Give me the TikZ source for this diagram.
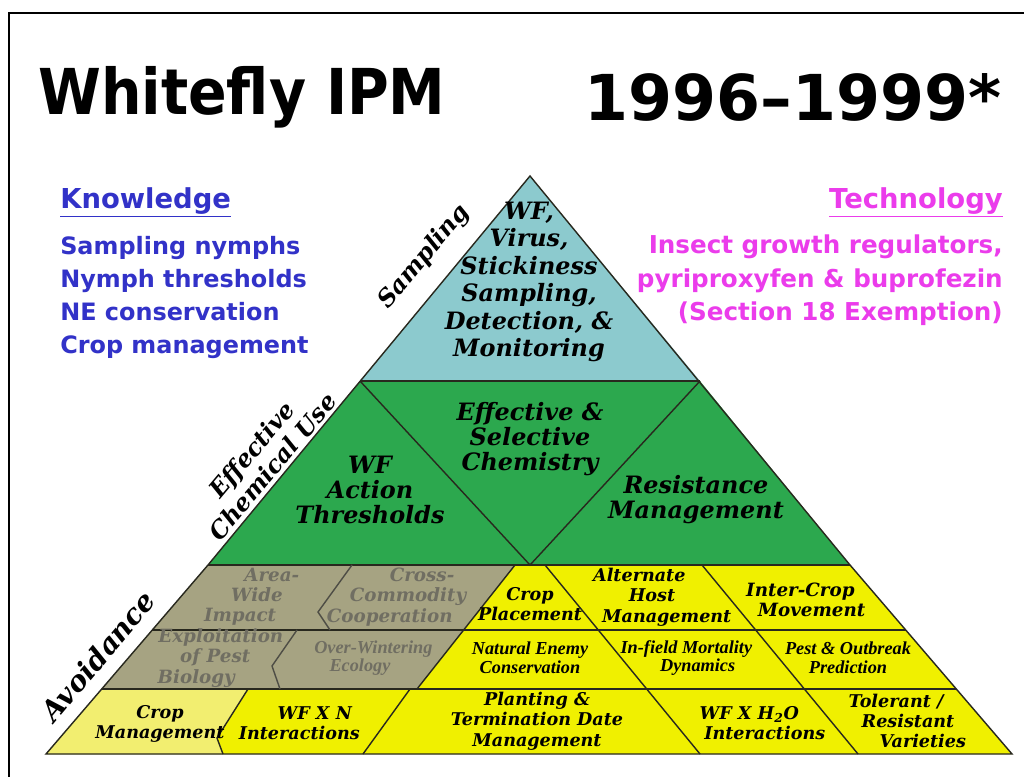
\documentclass[tikz,border=0pt]{standalone}
\usepackage{fontspec}
\setmainfont{DejaVu Serif}
\setsansfont{DejaVu Sans}
\newfontfamily\titlefont{DejaVu Sans Condensed}
\newfontfamily\narrowfont{Liberation Serif}
\usetikzlibrary{calc}

\definecolor{skyteal}{RGB}{140,202,206}
\definecolor{chemgreen}{RGB}{44,168,78}
\definecolor{avoidgray}{RGB}{166,163,130}
\definecolor{avoidtext}{RGB}{112,110,98}
\definecolor{cropyellow}{RGB}{240,240,0}
\definecolor{paleyellow}{RGB}{242,238,112}
\definecolor{knowblue}{RGB}{50,50,200}
\definecolor{techpink}{RGB}{235,60,235}
\definecolor{edgeline}{RGB}{40,40,30}

\tikzset{
  cell/.style={align=center,inner sep=0pt,font=\bfseries\itshape\fontsize{12.5}{14.5}\selectfont},
  rowcell/.style={cell,font=\bfseries\itshape\fontsize{13}{14.3}\selectfont},
  bigcell/.style={cell,font=\bfseries\itshape\fontsize{17}{19.5}\selectfont},
  greencell/.style={cell,font=\bfseries\itshape\fontsize{17}{17.8}\selectfont},
  smallcell/.style={cell,font=\narrowfont\bfseries\itshape\fontsize{13}{13.3}\selectfont},
  greycell/.style={text=avoidtext},
  sidelabel/.style={align=center,inner sep=0pt,rotate=50,
    font=\bfseries\itshape\fontsize{17}{19}\selectfont},
  sidehead/.style={inner sep=0pt,font=\sffamily\bfseries\fontsize{19.5}{22}\selectfont},
  sidetext/.style={inner sep=0pt,font=\sffamily\bfseries\fontsize{17}{23.5}\selectfont},
  edge/.style={draw=edgeline,line width=1pt}
}

\begin{document}
\begin{tikzpicture}[x=0.025cm,y=-0.025cm]
\useasboundingbox (0,0) rectangle (1024,776);
\fill[white] (0,0) rectangle (1024,776);
\draw[line width=1.5pt] (9,800) -- (9,13) -- (1040,13);

% pyramid corners
\coordinate (apex) at (530,176);
\coordinate (tl) at (360,381);
\coordinate (tr) at (700,381);
\coordinate (gl) at (208,565);
\coordinate (gm) at (530,565);
\coordinate (gr) at (850,565);
\coordinate (r1l) at (152,630);
\coordinate (r1r) at (906,630);
\coordinate (r2l) at (102,689);
\coordinate (r2r) at (956,689);
\coordinate (bl) at (46,754);
\coordinate (br) at (1012,754);
\coordinate (splitt) at (515,565);
\coordinate (splitb) at (417,689);

% fills
\fill[skyteal] (apex) -- (tr) -- (tl) -- cycle;
\fill[chemgreen] (tl) -- (tr) -- (gr) -- (gl) -- cycle;
\fill[avoidgray] (gl) -- (splitt) -- (splitb) -- (r2l) -- cycle;
\fill[cropyellow] (splitt) -- (gr) -- (r2r) -- (splitb) -- cycle;
\fill[cropyellow] (r2l) -- (r2r) -- (br) -- (bl) -- cycle;
\fill[paleyellow] (r2l) -- (248,689) -- (217,738) -- (223,754) -- (bl) -- cycle;

% lines
\draw[edge] (apex) -- (gr) -- (br) -- (bl) -- (gl) -- cycle;
\draw[edge] (tl) -- (tr);
\draw[edge] (gl) -- (gr);
\draw[edge] (r1l) -- (r1r);
\draw[edge] (r2l) -- (r2r);
\draw[edge] (tl) -- (gm) -- (tr);
\draw[edge] (splitt) -- (splitb);
\draw[edge,draw=avoidtext!70!black] (352,565) -- (318,612) -- (330,630);
\draw[edge,draw=avoidtext!70!black] (297,630) -- (272,666) -- (280,689);
\draw[edge] (545,565) -- (700,754);
\draw[edge] (702,565) -- (858,754);
\draw[edge] (410,689) -- (363,754);
\draw[edge] (248,689) -- (217,738) -- (223,754);

% top and green levels
\node (monitor) [bigcell] at (529,282) {WF,\\Virus,\\Stickiness\\Sampling,\\Detection, \&\\Monitoring};
\node (thresh) [greencell] at (370,490) {WF\\Action\\Thresholds};
\node (chem) [greencell] at (530,439) {Effective \&\\Selective\\Chemistry};
\node (resist) [greencell] at (696,500) {Resistance\\Management};

% avoidance rows
\node (areawide) [rowcell,greycell] at (257,597) {\hspace*{21pt}Area-\\Wide\\Impact\hspace*{24pt}};
\node (cross) [rowcell,greycell] at (408,597) {\hspace*{20pt}Cross-\\Commodity\\Cooperation\hspace*{26pt}};
\node (place) [cell] at (530,604) {Crop\\Placement};
\node (althost) [cell] at (652,597) {Alternate\hspace*{18pt}\\Host\\\hspace*{21pt}Management};
\node (intercrop) [rowcell] at (806,600) {Inter-Crop\hspace*{8pt}\\\hspace*{8pt}Movement};
\node (exploit) [rowcell,greycell] at (211,658) {\hspace*{14pt}Exploitation\\\hspace*{6pt}of Pest\\Biology\hspace*{21pt}};
\node (winter) [smallcell,greycell] at (367,658) {\hspace*{9pt}Over-Wintering\\Ecology\hspace*{10pt}};
\node (enemy) [smallcell] at (530,658) {Natural Enemy\\Conservation};
\node (infield) [smallcell] at (692,658) {In-field Mortality\hspace*{8pt}\\\hspace*{8pt}Dynamics};
\node (outbreak) [smallcell] at (848,658) {Pest \& Outbreak\\Prediction};
\node (cropman) [cell] at (160,724) {Crop\\Management};
\node (wfn) [cell] at (307,723) {\hspace*{11pt}WF X N\\Interactions\hspace*{11pt}};
\node (planting) [cell] at (537,721) {Planting \&\\Termination Date\\Management};
\node (wfh) [cell] at (757,723) {WF X H\textsubscript{2}O\hspace*{11pt}\\\hspace*{11pt}Interactions};
\node (tolerant) [cell] at (908,721) {Tolerant /\hspace*{17pt}\\Resistant\hspace*{4pt}\\\hspace*{21pt}Varieties};

% side labels along the pyramid
\node (samplbl) [sidelabel] at (424,257) {Sampling};
\node (chemlbl) [sidelabel] at (262,458) {Effective\\Chemical Use};
\node (avoidlbl) [sidelabel,font=\bfseries\itshape\fontsize{20}{22}\selectfont] at (98,656) {Avoidance};

% title
\node (title) [anchor=west,inner sep=0pt,font=\titlefont\bfseries\fontsize{45}{50}\selectfont] at (38,97) {Whitefly IPM};
\node (years) [anchor=east,inner sep=0pt,font=\sffamily\bfseries\fontsize{45}{50}\selectfont] at (1002,97) {1996–1999*};

% knowledge and technology
\node (know) [sidehead,anchor=west,text=knowblue] at (60,202) {\underline{Knowledge}};
\node (knowlist) [sidetext,anchor=north west,align=left,text=knowblue] at (60,236)
  {Sampling nymphs\\Nymph thresholds\\NE conservation\\Crop management};
\node (tech) [sidehead,anchor=east,text=techpink] at (1003,202) {\underline{Technology}};
\node (techlist) [sidetext,anchor=north east,align=right,text=techpink,
  font=\sffamily\bfseries\fontsize{17.5}{23.5}\selectfont] at (1003,235)
  {Insect growth regulators,\\pyriproxyfen \& buprofezin\\(Section 18 Exemption)};
\end{tikzpicture}
\end{document}
